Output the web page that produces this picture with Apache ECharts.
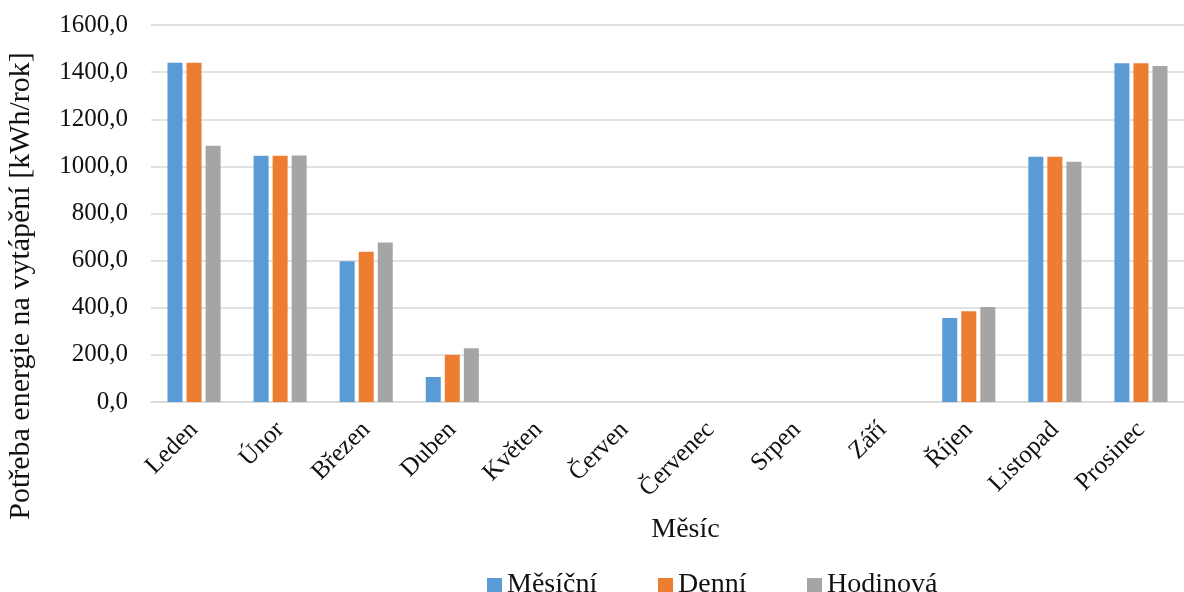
<!DOCTYPE html>
<html>
<head>
<meta charset="utf-8">
<script src="https://cdn.jsdelivr.net/npm/echarts@6/dist/echarts.min.js"></script>
<style>
  html, body { margin: 0; padding: 0; background: #fff; }
  #chart { width: 1184px; height: 592px; }
</style>
</head>
<body>
<div id="chart"></div>
<script>
// Monthly heating energy demand by calculation step
const months = ['Leden', 'Únor', 'Březen', 'Duben', 'Květen', 'Červen', 'Červenec', 'Srpen', 'Září', 'Říjen', 'Listopad', 'Prosinec'];
const mesicni = [1440, 1045, 597, 106, 0, 0, 0, 0, 0, 356, 1041, 1438];
const denni = [1440, 1045, 638, 200, 0, 0, 0, 0, 0, 385, 1041, 1438];
const hodinova = [1088, 1046, 677, 228, 0, 0, 0, 0, 0, 403, 1020, 1426];
const seriesNames = ['Měsíční', 'Denní', 'Hodinová'];
const colors = ['#5B9BD5', '#ED7D31', '#A5A5A5'];

const FONT = '"Liberation Serif", "Times New Roman", serif';
const TEXT = '#111';

const chart = echarts.init(document.getElementById('chart'));

function bar(name, data, color) {
  return {
    name: name,
    type: 'bar',
    data: data,
    barWidth: 15,
    barGap: '27%',
    itemStyle: { color: color },
    emphasis: { disabled: true }
  };
}

// one legend block per series so each entry sits at its own spot
const legendLeft = [482, 653, 802];
const legends = seriesNames.map((n, i) => ({
  left: legendLeft[i],
  top: 566,
  itemWidth: 15,
  itemHeight: 14,
  icon: 'rect',
  data: [n],
  textStyle: { fontFamily: FONT, fontSize: 28, color: TEXT }
}));

chart.setOption({
  animation: false,
  color: colors,
  grid: { left: 151, top: 25, width: 1043, bottom: 190, containLabel: false },
  graphic: [{
    type: 'text',
    x: 21,
    y: 286,
    rotation: Math.PI / 2,
    style: {
      text: 'Potřeba energie na vytápění [kWh/rok]',
      font: '30px ' + FONT,
      fill: TEXT,
      align: 'center',
      verticalAlign: 'middle'
    }
  }],
  legend: legends,
  xAxis: {
    type: 'category',
    data: months,
    name: 'Měsíc',
    nameLocation: 'middle',
    nameGap: 114,
    nameTextStyle: { fontFamily: FONT, fontSize: 28, color: TEXT, padding: [0, 0, 0, 36] },
    axisLine: { show: true, lineStyle: { color: '#D9D9D9', width: 1.5 } },
    axisTick: { show: false },
    axisLabel: {
      rotate: 45,
      interval: 0,
      margin: 24,
      fontFamily: FONT,
      fontSize: 25,
      color: TEXT
    }
  },
  yAxis: {
    type: 'value',
    min: 0,
    max: 1600,
    interval: 200,
    axisLine: { show: false },
    axisTick: { show: false },
    splitLine: { lineStyle: { color: '#D9D9D9', width: 1.5 } },
    axisLabel: {
      margin: 23,
      fontFamily: FONT,
      fontSize: 25,
      color: TEXT,
      formatter: v => v.toFixed(1).replace('.', ',')
    }
  },
  series: [
    bar(seriesNames[0], mesicni, colors[0]),
    bar(seriesNames[1], denni, colors[1]),
    bar(seriesNames[2], hodinova, colors[2])
  ]
});
</script>
</body>
</html>
